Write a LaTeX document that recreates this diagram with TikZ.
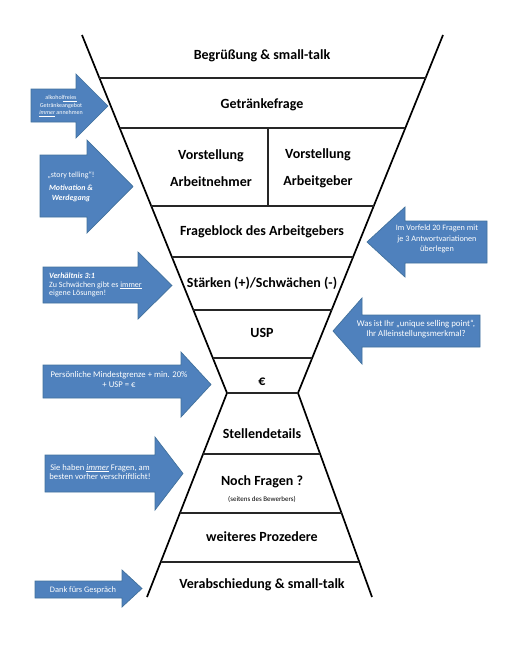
\documentclass[tikz,border=0pt]{standalone}
\usepackage{fontspec}
\setmainfont{Carlito}
\definecolor{abl}{HTML}{4F81BD}
\definecolor{abd}{HTML}{41719C}
\tikzset{
  funnel/.style={line width=1.7pt, black, line join=miter},
  sep/.style={line width=1.3pt, black!85},
  lab/.style={font={\fontsize{14}{15}\selectfont\bfseries}, inner sep=0pt, align=center},
  arr/.style={fill=abl, draw=abd, line width=0.7pt, line join=miter},
  atext/.style={text=white, inner sep=0pt, align=center, font={\fontsize{7.4}{9}\selectfont}}
}
\begin{document}
\begin{tikzpicture}[x=1pt,y=-1pt]
\useasboundingbox (0,0) rectangle (518,648);
% hourglass outline
\coordinate (TL) at (82,35);
\coordinate (NL) at (227,393);
\coordinate (NR) at (298,393);
\coordinate (TR) at (443,35);
\coordinate (BL) at (147,597);
\coordinate (BR) at (372,597);
\draw[funnel] (TL) -- (NL) -- (BL);
\draw[funnel] (TR) -- (NR) -- (BR);
% separators upper
\draw[sep] (99.4,78) -- (425.6,78);
\draw[sep] (119.7,128) -- (405.3,128);
\draw[sep] (151.3,206) -- (373.7,206);
\draw[sep] (171.9,257) -- (353.1,257);
\draw[sep] (193.4,310) -- (331.6,310);
\draw[sep] (212.8,358) -- (312.2,358);
\draw[sep] (NL) -- (NR);
\draw[sep] (268,128) -- (268,206);
% separators lower
\draw[sep] (203.1,454) -- (320.1,454);
\draw[sep] (179.9,513) -- (341.5,513);
\draw[sep] (160.7,562) -- (359.3,562);
% labels
\node[lab] (l1) at (262,56) {Begrüßung \& small-talk};
\node[lab] (l2) at (262,105) {Getränkefrage};
\node[lab, font={\fontsize{14}{27}\selectfont\bfseries}] (l3a) at (211,168) {Vorstellung\\Arbeitnehmer};
\node[lab, font={\fontsize{14}{27}\selectfont\bfseries}] (l3b) at (318,168) {Vorstellung\\Arbeitgeber};
\node[lab] (l4) at (262,232) {Frageblock des Arbeitgebers};
\node[lab] (l5) at (262,283) {Stärken (+)/Schwächen (-)};
\node[lab] (l6) at (262,333) {USP};
\node[lab] (l7) at (262,382) {€};
\node[lab] (l8) at (262,434) {Stellendetails};
\node[lab] (l9) at (262,482) {Noch Fragen ?};
\node[inner sep=0pt, font={\fontsize{7}{8}\selectfont}] (l9b) at (262,499.5) {(seitens des Bewerbers)};
\node[lab] (l10) at (262,537) {weiteres Prozedere};
\node[lab] (l11) at (262,585) {Verabschiedung \& small-talk};
% left arrows
\draw[arr] (31,89) -- (76,89) -- (76,74) -- (108,106) -- (76,138) -- (76,122) -- (31,122) -- cycle;
\node[atext, font={\fontsize{6}{7.2}\selectfont}] (a1) at (61,106) {alkohol\underline{freies}\\Getränkeangebot\\\underline{\textit{immer}} annehmen};
\draw[arr] (40,155) -- (87,155) -- (87,140) -- (133,186.5) -- (87,233) -- (87,217) -- (40,217) -- cycle;
\node[atext, font={\fontsize{7.9}{12}\selectfont}] (a2) at (71,187) {„story telling“!\\[1pt]\textbf{\textit{Motivation \&}}\\[-2.5pt]\textbf{\textit{Werdegang}}};
\draw[arr] (43,267) -- (138,267) -- (138,252) -- (172,285.5) -- (138,319) -- (138,303) -- (43,303) -- cycle;
\node[atext, align=left, font={\fontsize{8}{8.4}\selectfont}, anchor=west] (a3) at (49,285) {\textbf{\textit{Verhältnis 3:1}}\\Zu Schwächen gibt es \underline{immer}\\eigene Lösungen!};
\draw[arr] (43,365) -- (181,365) -- (181,352) -- (211,384.5) -- (181,417) -- (181,398) -- (43,398) -- cycle;
\node[atext, font={\fontsize{8.7}{10}\selectfont}] (a6) at (119,380) {Persönliche Mindestgrenze + min. 20\%\\+ USP = €};
\draw[arr] (45,455) -- (155,455) -- (155,437) -- (183,473.5) -- (155,510) -- (155,492) -- (45,492) -- cycle;
\node[atext, font={\fontsize{8.6}{9.8}\selectfont}] (a7) at (100,472) {Sie haben \underline{\textit{immer}} Fragen, am\\besten vorher verschriftlicht!};
\draw[arr] (35,581) -- (122,581) -- (122,570) -- (142,588.5) -- (122,607) -- (122,598) -- (35,598) -- cycle;
\node[atext, font={\fontsize{8.4}{9}\selectfont}] (a8) at (83,590) {Dank fürs Gespräch};
% right arrows (pointing left)
\draw[arr] (487,221) -- (405,221) -- (405,207) -- (367,242) -- (405,277) -- (405,263) -- (487,263) -- cycle;
\node[atext, font={\fontsize{8.2}{10.5}\selectfont}] (a4) at (437,239) {Im Vorfeld 20 Fragen mit\\je 3 Antwortvariationen\\überlegen};
\draw[arr] (480,315) -- (362,315) -- (362,298) -- (333,331) -- (362,364) -- (362,347) -- (480,347) -- cycle;
\node[atext, font={\fontsize{8.8}{10}\selectfont}] (a5) at (416,329) {Was ist Ihr „unique selling point“,\\Ihr Alleinstellungsmerkmal?};
\end{tikzpicture}
\end{document}
